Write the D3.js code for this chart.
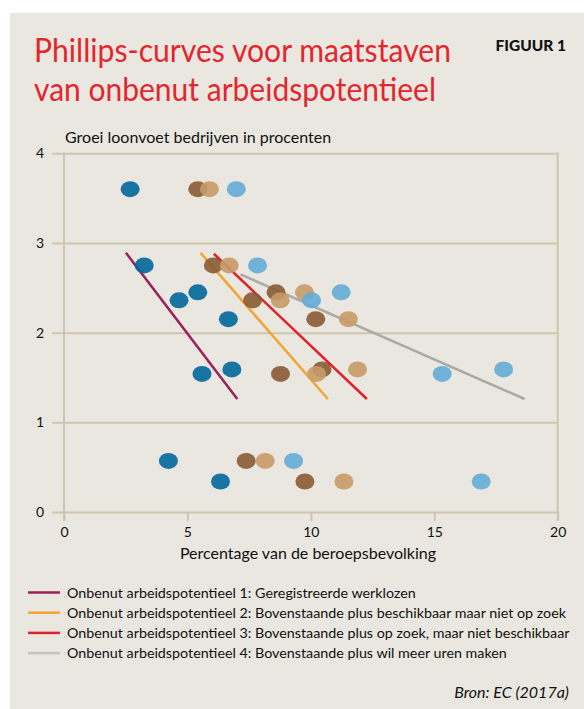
<!DOCTYPE html>
<html>
<head>
<meta charset="utf-8">
<script src="https://cdn.jsdelivr.net/npm/d3@7"></script>
<style>
  body { margin: 0; background: #ffffff; }
  text { font-family: Lato, "Noto Sans", sans-serif; }
</style>
</head>
<body>
<div class="graphic"></div>
<script>
// loongroei per waarneming (gedeeld door alle maatstaven)
let wageGrowth = [3.60, 2.75, 2.36, 2.45, 2.15, 1.54, 1.59, 0.57, 0.34];
// onbenut arbeidspotentieel 1..4 (procent van de beroepsbevolking)
let oap1 = [2.68, 3.25, 4.66, 5.42, 6.66, 5.59, 6.80, 4.23, 6.34];
let oap2 = [5.42, 6.05, 7.64, 8.59, 10.20, 8.77, 10.45, 7.38, 9.76];
let oap3 = [5.89, 6.69, 8.76, 9.74, 11.52, 10.23, 11.89, 8.15, 11.34];
let oap4 = [6.98, 7.84, 10.03, 11.23, null, 15.32, 17.81, 9.30, 16.90];

// begin- en eindpunten van de Phillips-curves
let fitX = [[2.51, 7.02], [5.53, 10.69], [6.07, 12.27], [7.15, 18.66]];
let fitY = [[2.89, 1.26], [2.89, 1.26], [2.88, 1.26], [2.65, 1.26]];

let legendLabels = [
    "Onbenut arbeidspotentieel 1: Geregistreerde werklozen",
    "Onbenut arbeidspotentieel 2: Bovenstaande plus beschikbaar maar niet op zoek",
    "Onbenut arbeidspotentieel 3: Bovenstaande plus op zoek, maar niet beschikbaar",
    "Onbenut arbeidspotentieel 4: Bovenstaande plus wil meer uren maken"
];
let xTicks = [0, 5, 10, 15, 20];
let yTicks = [0, 1, 2, 3, 4];

let dotColors = ["#00679c", "#8a5a34", "#c89a68", "#63acd7"];
let lineColors = ["#9c1f5b", "#f2a531", "#e1202c", "#a9a9a6"];
let gridColor = "#d0c5ae";

let svg = d3.select(".graphic")
            .append("svg")
            .attr("width", 584)
            .attr("height", 709);

svg.append("rect")
    .attr("x", 10).attr("y", 13)
    .attr("width", 574).attr("height", 696)
    .attr("fill", "#e9e7df");

// titel
let title = svg.append("g").attr("fill", "#e3262e").attr("font-size", 32);
title.append("text").attr("x", 34).attr("y", 62)
    .attr("textLength", 417).attr("lengthAdjust", "spacingAndGlyphs")
    .text("Phillips-curves voor maatstaven");
title.append("text").attr("x", 34).attr("y", 101)
    .attr("textLength", 402).attr("lengthAdjust", "spacingAndGlyphs")
    .text("van onbenut arbeidspotentieel");

svg.append("text")
    .attr("x", 566).attr("y", 51)
    .attr("text-anchor", "end")
    .attr("font-size", 15.5)
    .attr("font-weight", 900)
    .attr("fill", "#111")
    .text("FIGUUR 1");

let x = d3.scaleLinear().domain([0, 20]).range([64, 557.7]);
let y = d3.scaleLinear().domain([0, 4]).range([512, 153.3]);

// horizontale rasterlijnen + y-labels
let yAxis = svg.append("g")
    .attr("transform", "translate(" + x(20) + ",0)")
    .call(d3.axisLeft(y).tickValues(yTicks).tickFormat(d3.format("d"))
        .tickSize(x(20) - 52).tickPadding(8));
yAxis.select(".domain").remove();
yAxis.selectAll("line").attr("stroke", gridColor).attr("stroke-width", 2);
yAxis.selectAll("text").attr("font-size", 14).attr("fill", "#111")
    .attr("font-family", "Lato, sans-serif");

// x-as
let xAxis = svg.append("g")
    .attr("transform", "translate(0," + y(0) + ")")
    .call(d3.axisBottom(x).tickValues(xTicks).tickFormat(d3.format("d"))
        .tickSize(9).tickPadding(6));
xAxis.select(".domain").remove();
xAxis.selectAll("line").attr("stroke", gridColor).attr("stroke-width", 2);
xAxis.selectAll("text").attr("font-size", 14).attr("fill", "#111")
    .attr("font-family", "Lato, sans-serif");

// kader links en rechts
svg.selectAll(".frame")
    .data([0, 20])
    .enter().append("line")
    .attr("x1", d => x(d)).attr("x2", d => x(d))
    .attr("y1", y(4) - 1).attr("y2", y(0) + 9)
    .attr("stroke", gridColor).attr("stroke-width", 2);

svg.append("text")
    .attr("x", 65).attr("y", 143)
    .attr("font-size", 16).attr("fill", "#111")
    .text("Groei loonvoet bedrijven in procenten");

svg.append("text")
    .attr("x", 308).attr("y", 559)
    .attr("text-anchor", "middle")
    .attr("font-size", 16).attr("fill", "#111")
    .text("Percentage van de beroepsbevolking");

// Phillips-curves
fitX.forEach(function (xs, i) {
    svg.append("line")
        .attr("x1", x(xs[0])).attr("y1", y(fitY[i][0]))
        .attr("x2", x(xs[1])).attr("y2", y(fitY[i][1]))
        .attr("stroke", lineColors[i])
        .attr("stroke-width", 2.5);
});

// punten
[oap1, oap2, oap3, oap4].forEach(function (series, i) {
    svg.append("g").selectAll("ellipse")
        .data(series.map((v, j) => [v, wageGrowth[j]]).filter(d => d[0] !== null))
        .enter().append("ellipse")
        .attr("cx", d => x(d[0]))
        .attr("cy", d => y(d[1]))
        .attr("rx", 9.5)
        .attr("ry", 8)
        .attr("fill", dotColors[i])
        .attr("fill-opacity", 0.9);
});

// legenda
let legend = svg.append("g");
legendLabels.forEach(function (label, i) {
    let ly = 592.5 + i * 20.2;
    legend.append("line")
        .attr("x1", 28).attr("x2", 60)
        .attr("y1", ly).attr("y2", ly)
        .attr("stroke", lineColors[i] === "#a9a9a6" ? "#c4c4c2" : lineColors[i])
        .attr("stroke-width", 2.5);
    legend.append("text")
        .attr("x", 67).attr("y", ly + 5)
        .attr("font-size", 14.3).attr("fill", "#111")
        .text(label);
});

svg.append("text")
    .attr("x", 569).attr("y", 698)
    .attr("text-anchor", "end")
    .attr("font-size", 16).attr("font-style", "italic")
    .attr("fill", "#111")
    .text("Bron: EC (2017a)");
</script>
</body>
</html>
